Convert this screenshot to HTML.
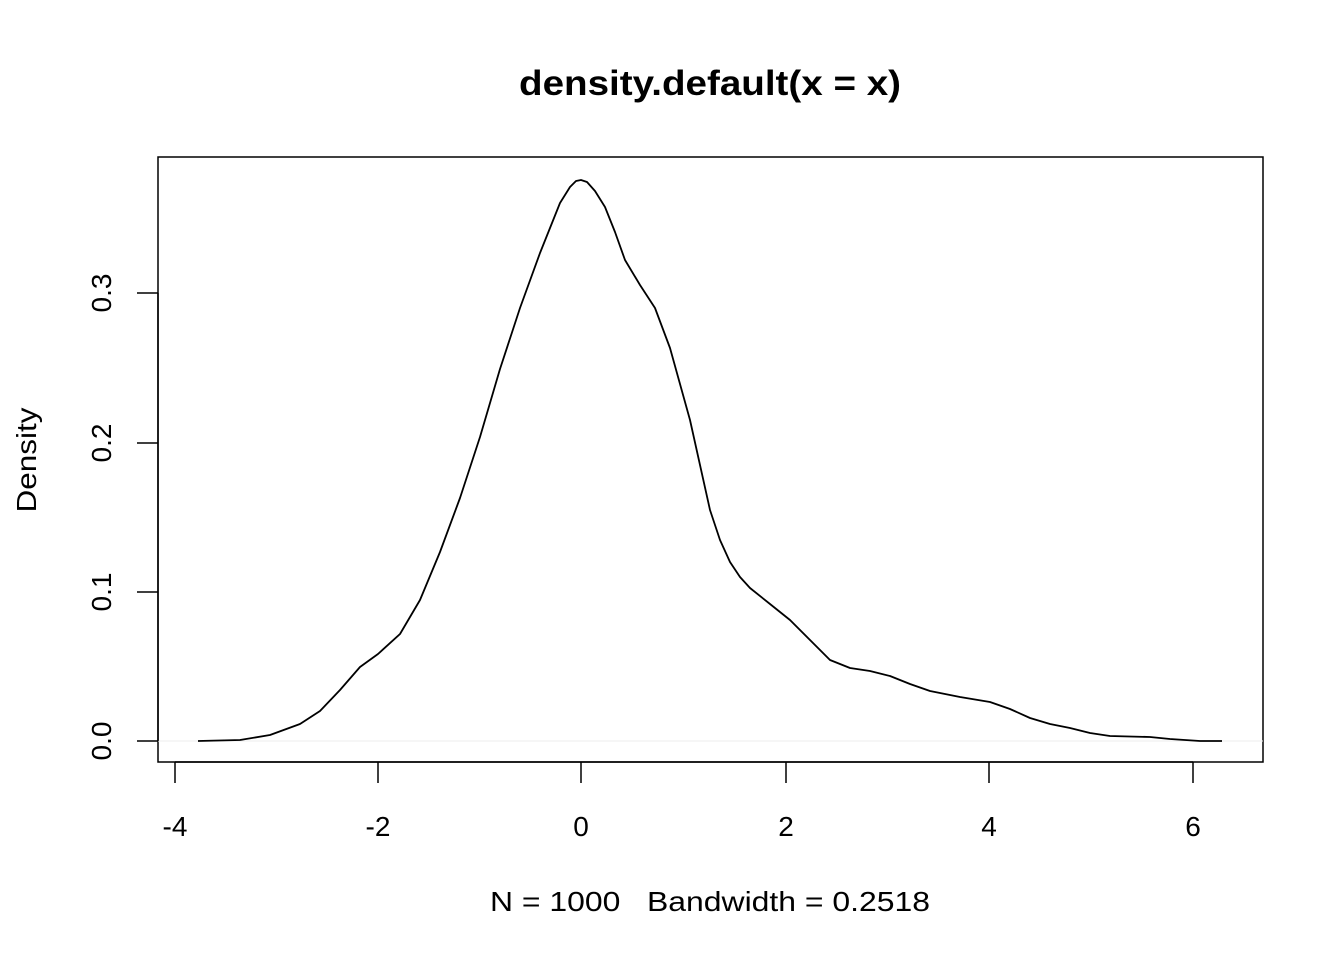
<!DOCTYPE html>
<html><head><meta charset="utf-8"><style>html,body{margin:0;padding:0;background:#fff}</style></head>
<body>
<svg width="1344" height="960" viewBox="0 0 1344 960" xmlns="http://www.w3.org/2000/svg" font-family="Liberation Sans, Arial, sans-serif">
<rect width="1344" height="960" fill="#fff"/>
<text x="710" y="95" font-size="35" font-weight="bold" text-anchor="middle" textLength="382" lengthAdjust="spacingAndGlyphs">density.default(x = x)</text>
<rect x="158" y="157" width="1105" height="605" fill="none" stroke="#000" stroke-width="1.5"/>
<line x1="158" y1="741" x2="1263" y2="741" stroke="#eee" stroke-width="1"/>
<g stroke="#000" stroke-width="1.5">
<line x1="175" y1="762" x2="1193" y2="762"/>
<line x1="175" y1="762" x2="175" y2="783"/>
<line x1="378" y1="762" x2="378" y2="783"/>
<line x1="581" y1="762" x2="581" y2="783"/>
<line x1="786" y1="762" x2="786" y2="783"/>
<line x1="989" y1="762" x2="989" y2="783"/>
<line x1="1193" y1="762" x2="1193" y2="783"/>
<line x1="158" y1="293" x2="158" y2="741"/>
<line x1="137" y1="741" x2="158" y2="741"/>
<line x1="137" y1="592" x2="158" y2="592"/>
<line x1="137" y1="443" x2="158" y2="443"/>
<line x1="137" y1="293" x2="158" y2="293"/>
</g>
<g font-size="28" text-anchor="middle">
<text x="175" y="836">-4</text>
<text x="378" y="836">-2</text>
<text x="581" y="836">0</text>
<text x="786" y="836">2</text>
<text x="989" y="836">4</text>
<text x="1193" y="836">6</text>
<text transform="translate(111,741) rotate(-90)">0.0</text>
<text transform="translate(111,592) rotate(-90)">0.1</text>
<text transform="translate(111,443) rotate(-90)">0.2</text>
<text transform="translate(111,293) rotate(-90)">0.3</text>
<text transform="translate(36,460) rotate(-90)" textLength="105" lengthAdjust="spacingAndGlyphs">Density</text>
<text x="710" y="911" xml:space="preserve" style="white-space:pre" textLength="440" lengthAdjust="spacingAndGlyphs">N = 1000   Bandwidth = 0.2518</text>
</g>
<polyline fill="none" stroke="#000" stroke-width="1.8" stroke-linejoin="round" points="198,741 240,740 270,735 300,724 320,711 340,690 360,667 378,654 400,634 420,600 440,552 460,498 480,437 500,369 520,308 540,253 560,203 570,187 576,181 581,180 587,182 595,191 605,207 615,232 625,260 640,285 655,308 670,348 690,420 710,510 720,540 730,562 740,577 750,588 770,604 790,620 810,640 830,660 850,668 870,671 890,676 910,684 930,691 960,697 990,702 1010,709 1030,718 1050,724 1070,728 1090,733 1110,736 1150,737 1170,739 1200,741 1222,741"/>
</svg>
</body></html>
